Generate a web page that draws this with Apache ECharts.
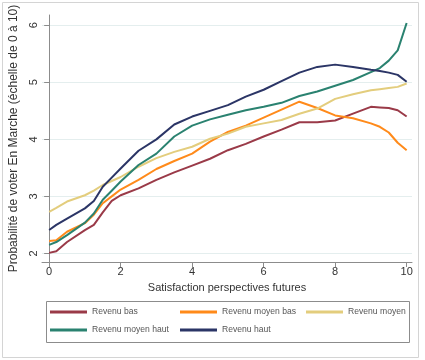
<!DOCTYPE html>
<html>
<head>
<meta charset="utf-8">
<script src="https://cdn.jsdelivr.net/npm/echarts@6/dist/echarts.min.js"></script>
<style>html,body{margin:0;padding:0;background:#fff}#c{width:425px;height:360px}</style>
</head>
<body>
<div id="c"></div>
<script>
var xs = [0,0.2,0.5,1,1.25,1.5,1.75,2,2.5,3,3.5,4,4.5,5,5.5,6,6.5,7,7.5,8,8.5,9,9.25,9.5,9.75,10];
var revenuBas = [2.01,2.04,2.2,2.41,2.5,2.72,2.92,3.02,3.14,3.29,3.42,3.54,3.66,3.81,3.92,4.05,4.17,4.3,4.3,4.33,4.45,4.57,4.56,4.55,4.51,4.4];
var revenuMoyenBas = [2.22,2.23,2.38,2.53,2.68,2.88,3.0,3.12,3.29,3.48,3.62,3.75,3.96,4.13,4.24,4.38,4.52,4.66,4.55,4.42,4.37,4.28,4.22,4.12,3.94,3.81];
var revenuMoyen = [2.73,2.8,2.91,3.02,3.1,3.2,3.27,3.34,3.52,3.67,3.78,3.87,4.01,4.1,4.22,4.28,4.34,4.45,4.54,4.71,4.79,4.86,4.88,4.9,4.92,4.98];
var revenuMoyenHaut = [2.15,2.2,2.32,2.54,2.7,2.94,3.1,3.26,3.55,3.75,4.05,4.24,4.35,4.43,4.51,4.57,4.64,4.76,4.84,4.94,5.04,5.18,5.25,5.38,5.56,6.04];
var revenuHaut = [2.41,2.5,2.61,2.79,2.92,3.17,3.33,3.49,3.8,4.0,4.26,4.4,4.5,4.6,4.75,4.87,5.02,5.17,5.27,5.31,5.27,5.22,5.2,5.17,5.13,5.01];
var seriesNames = ['Revenu bas','Revenu moyen bas','Revenu moyen','Revenu moyen haut','Revenu haut'];
var seriesColors = ['#9a3a48','#ff8a1a','#e3cd7d','#2a8270','#2b3566'];
var xTicks = [0,2,4,6,8,10];
var yTicks = [2,3,4,5,6];
var xTitle = 'Satisfaction perspectives futures';
var yTitle = 'Probabilité de voter En Marche (échelle de 0 à 10)';

var allVals = [revenuBas, revenuMoyenBas, revenuMoyen, revenuMoyenHaut, revenuHaut];
var REG = '"Liberation Sans",Arial,sans-serif';

var series = seriesNames.map(function(n, i){
  return {
    name: n, type: 'line', symbol: 'none', smooth: false,
    lineStyle: {width: 2, color: seriesColors[i]},
    itemStyle: {color: seriesColors[i]},
    data: xs.map(function(x, j){ return [x, allVals[i][j]]; })
  };
});

function leg(names, left){
  return {
    data: names, orient: 'vertical', left: left, top: 306, itemGap: 6,
    icon: 'rect', itemWidth: 37, itemHeight: 3, padding: 0,
    textStyle: {fontFamily: REG, fontSize: 8.6, color: '#555', lineHeight: 12},
    selectedMode: false
  };
}

var chart = echarts.init(document.getElementById('c'), null, {renderer: 'canvas'});
chart.setOption({
  animation: false,
  backgroundColor: '#fff',
  grid: {left: 42, right: 13, top: 15, bottom: 98},
  xAxis: {
    type: 'value', min: -0.2, max: 10.15,
    name: xTitle, nameLocation: 'middle', nameGap: 20,
    nameTextStyle: {fontFamily: REG, fontSize: 11, color: '#333'},
    axisLine: {show: true, lineStyle: {color: '#8c8c8c', width: 1}},
    axisTick: {show: true, length: 5, customValues: xTicks, lineStyle: {color: '#8c8c8c'}},
    axisLabel: {customValues: xTicks, fontFamily: REG, fontSize: 11, color: '#333', margin: 4},
    splitLine: {show: false}
  },
  yAxis: {
    type: 'value', min: 1.85, max: 6.18,
    name: yTitle, nameLocation: 'middle', nameGap: 17, nameRotate: 90,
    nameTextStyle: {fontFamily: REG, fontSize: 12, color: '#333'},
    axisLine: {show: true, lineStyle: {color: '#8c8c8c', width: 1}},
    axisTick: {show: true, length: 5, customValues: yTicks, lineStyle: {color: '#8c8c8c'}},
    axisLabel: {customValues: yTicks, rotate: 90, fontFamily: REG, fontSize: 11, color: '#333', margin: 3},
    splitLine: {show: true, lineStyle: {color: '#e4eeee', width: 1}}
  },
  legend: [
    leg([seriesNames[0], seriesNames[3]], 50),
    leg([seriesNames[1], seriesNames[4]], 180),
    leg([seriesNames[2]], 306)
  ],
  graphic: [
    {type: 'rect', shape: {x: 2.5, y: 2.5, width: 416, height: 355}, style: {fill: 'none', stroke: '#d4d4d4', lineWidth: 1}, silent: true, z: -1},
    {type: 'rect', shape: {x: 46.5, y: 301.5, width: 363, height: 41}, style: {fill: 'none', stroke: '#8c8c8c', lineWidth: 1}, silent: true}
  ],
  series: series
});
</script>
</body>
</html>
